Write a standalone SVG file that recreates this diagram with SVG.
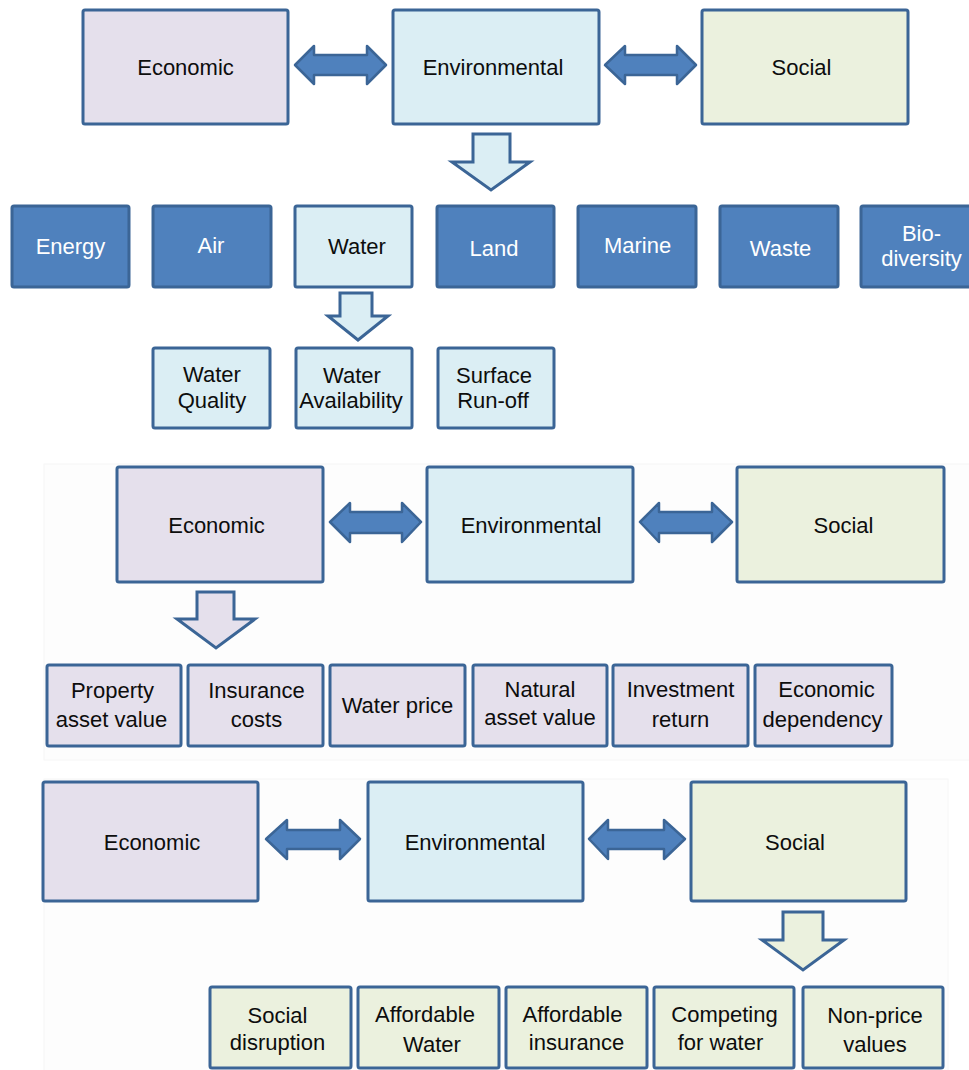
<svg xmlns="http://www.w3.org/2000/svg" width="969" height="1070" viewBox="0 0 969 1070">
  <style>
    .box { stroke: #3b6596; stroke-width: 3; }
    .eco { fill: #e5e0ec; }
    .env { fill: #dbeef4; }
    .soc { fill: #ebf1de; }
    .blue { fill: #4f81bd; }
    .arr { fill: #4f81bd; stroke: #3b6596; stroke-width: 2.5; stroke-linejoin: round; }
    .down { stroke: #3b6596; stroke-width: 3; stroke-linejoin: miter; }
    text { font-family: "Liberation Sans", Arial, sans-serif; font-size: 22px; fill: #0d0d0d; text-anchor: middle; }
    .w { fill: #ffffff; }
    .panel { fill: #fdfdfd; stroke: #f6f6f6; stroke-width: 1; }
  </style>

  <rect width="969" height="1070" fill="#ffffff"/>
  <!-- faint panel backgrounds -->
  <rect class="panel" x="44" y="464" width="930" height="296"/>
  <rect class="panel" x="44" y="779" width="904" height="295"/>

  <!-- ===== Panel 1: environmental breakdown ===== -->
  <g id="p1-economic"><rect class="box eco" x="83" y="10" width="205" height="114" rx="2"/><text x="185.5" y="75">Economic</text></g>
  <g id="p1-environmental"><rect class="box env" x="393" y="10" width="206" height="114" rx="2"/><text x="493" y="75">Environmental</text></g>
  <g id="p1-social"><rect class="box soc" x="702" y="10" width="206" height="114" rx="2"/><text x="801.5" y="75">Social</text></g>

  <g id="p1-energy"><rect class="box blue" x="12" y="206" width="117" height="81" rx="2"/><text class="w" x="70.5" y="254">Energy</text></g>
  <g id="p1-air"><rect class="box blue" x="153" y="206" width="118" height="81" rx="2"/><text class="w" x="211" y="253">Air</text></g>
  <g id="p1-water"><rect class="box env" x="295" y="206" width="117" height="81" rx="2"/><text x="357" y="254">Water</text></g>
  <g id="p1-land"><rect class="box blue" x="437" y="206" width="117" height="81" rx="2"/><text class="w" x="494" y="256">Land</text></g>
  <g id="p1-marine"><rect class="box blue" x="578" y="206" width="118" height="81" rx="2"/><text class="w" x="637.5" y="253">Marine</text></g>
  <g id="p1-waste"><rect class="box blue" x="720" y="206" width="118" height="81" rx="2"/><text class="w" x="780.5" y="256">Waste</text></g>
  <g id="p1-biodiversity"><rect class="box blue" x="861" y="206" width="120" height="81" rx="2"/><text class="w" x="921.5" y="241">Bio-</text><text class="w" x="921.5" y="266">diversity</text></g>

  <g id="p1-water-quality"><rect class="box env" x="153" y="348" width="117" height="80" rx="2"/><text x="212" y="382">Water</text><text x="212" y="408">Quality</text></g>
  <g id="p1-water-availability"><rect class="box env" x="296" y="348" width="116" height="80" rx="2"/><text x="352" y="383">Water</text><text x="351" y="408">Availability</text></g>
  <g id="p1-surface-runoff"><rect class="box env" x="438" y="348" width="116" height="80" rx="2"/><text x="494" y="383">Surface</text><text x="493" y="408">Run-off</text></g>

  <!-- ===== Panel 2: economic breakdown ===== -->
  <g id="p2-economic"><rect class="box eco" x="117" y="467" width="206" height="115" rx="2"/><text x="216.5" y="533">Economic</text></g>
  <g id="p2-environmental"><rect class="box env" x="427" y="467" width="206" height="115" rx="2"/><text x="531" y="533">Environmental</text></g>
  <g id="p2-social"><rect class="box soc" x="737" y="467" width="207" height="115" rx="2"/><text x="843.5" y="533">Social</text></g>

  <g id="p2-property"><rect class="box eco" x="47" y="665" width="134" height="81" rx="2"/><text x="112.5" y="698">Property</text><text x="111.5" y="727">asset value</text></g>
  <g id="p2-insurance"><rect class="box eco" x="188" y="665" width="135" height="81" rx="2"/><text x="256.5" y="698">Insurance</text><text x="256.5" y="727">costs</text></g>
  <g id="p2-water-price"><rect class="box eco" x="330" y="665" width="135" height="81" rx="2"/><text x="397.5" y="713">Water price</text></g>
  <g id="p2-natural"><rect class="box eco" x="473" y="665" width="134" height="81" rx="2"/><text x="540" y="697">Natural</text><text x="540" y="725">asset value</text></g>
  <g id="p2-investment"><rect class="box eco" x="613" y="665" width="135" height="81" rx="2"/><text x="680.5" y="697">Investment</text><text x="680.5" y="727">return</text></g>
  <g id="p2-dependency"><rect class="box eco" x="755" y="665" width="137" height="81" rx="2"/><text x="826.5" y="697">Economic</text><text x="822.5" y="727">dependency</text></g>

  <!-- ===== Panel 3: social breakdown ===== -->
  <g id="p3-economic"><rect class="box eco" x="43" y="782" width="215" height="119" rx="2"/><text x="152" y="850">Economic</text></g>
  <g id="p3-environmental"><rect class="box env" x="368" y="782" width="215" height="119" rx="2"/><text x="475" y="850">Environmental</text></g>
  <g id="p3-social"><rect class="box soc" x="691" y="782" width="215" height="119" rx="2"/><text x="795" y="850">Social</text></g>

  <g id="p3-disruption"><rect class="box soc" x="210" y="987" width="141" height="81" rx="2"/><text x="277.5" y="1023">Social</text><text x="277.5" y="1050">disruption</text></g>
  <g id="p3-affordable-water"><rect class="box soc" x="358" y="987" width="141" height="81" rx="2"/><text x="425" y="1022">Affordable</text><text x="432" y="1052">Water</text></g>
  <g id="p3-affordable-insurance"><rect class="box soc" x="506" y="987" width="141" height="81" rx="2"/><text x="572.5" y="1022">Affordable</text><text x="576.5" y="1050">insurance</text></g>
  <g id="p3-competing"><rect class="box soc" x="654" y="987" width="140" height="81" rx="2"/><text x="724.5" y="1022">Competing</text><text x="720.5" y="1050">for water</text></g>
  <g id="p3-nonprice"><rect class="box soc" x="803" y="987" width="140" height="81" rx="2"/><text x="875" y="1023">Non-price</text><text x="875" y="1052">values</text></g>

  <!-- ===== Connectors ===== -->
  <g id="connectors">
    <!-- two-way block arrows -->
    <polygon class="arr" points="295,65 314,46 314,55 367,55 367,46 386,65 367,84 367,75 314,75 314,84"/>
    <polygon class="arr" points="605,65 625,46 625,55 677,55 677,46 696,65 677,84 677,75 625,75 625,84"/>
    <polygon class="arr" points="330,522 350,503 350,512 402,512 402,503 421,522 402,542 402,533 350,533 350,542"/>
    <polygon class="arr" points="640,522 659,503 659,512 712,512 712,503 732,522 712,542 712,533 659,533 659,542"/>
    <polygon class="arr" points="266,839 287,820 287,830 340,830 340,820 360,839 340,859 340,849 287,849 287,859"/>
    <polygon class="arr" points="589,839 608,820 608,830 664,830 664,820 685,839 664,859 664,849 608,849 608,859"/>

    <!-- outline down arrows -->
    <polygon class="down env" points="473,134 510,134 510,162 530,162 491,190 452,162 473,162"/>
    <polygon class="down env" points="340,293 372,293 372,316 388,316 358,340 328,316 340,316"/>
    <polygon class="down eco" points="197,592 234,592 234,619 255,619 216,648 177,619 197,619"/>
    <polygon class="down soc" points="783,912 823,912 823,940 844,940 803,970 762,940 783,940"/>
  </g>
</svg>
